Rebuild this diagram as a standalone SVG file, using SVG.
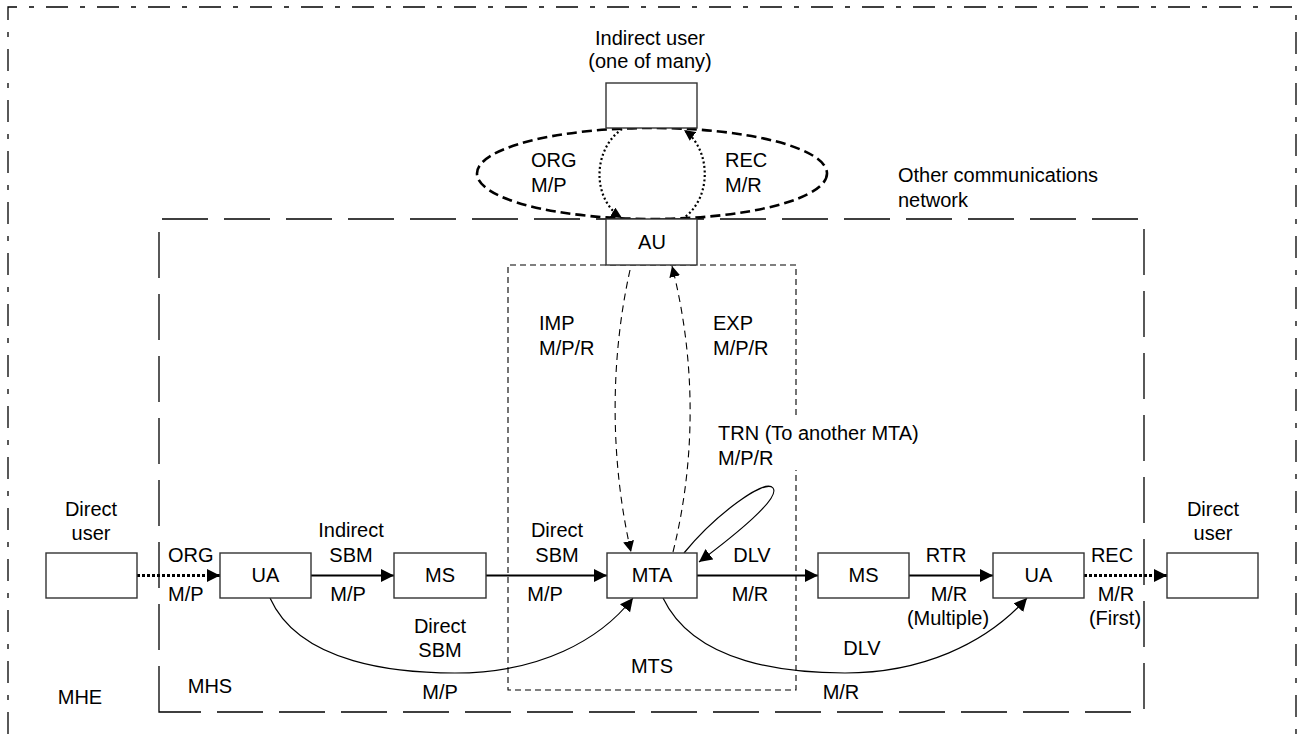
<svg xmlns="http://www.w3.org/2000/svg" width="1298" height="734" viewBox="0 0 1298 734">
<style>
text{font-family:"Liberation Sans",Arial,sans-serif;font-size:20px;fill:#000}
.c{text-anchor:middle}
.box{fill:#fff;stroke:#333;stroke-width:1.4}
.solid{fill:none;stroke:#000;stroke-width:2.2}
.thin{fill:none;stroke:#000;stroke-width:1.2}
.dot{fill:none;stroke:#000;stroke-width:3.2;stroke-dasharray:3 2}
.dotthin{fill:none;stroke:#000;stroke-width:2.2;stroke-dasharray:2 2.5}
.dash{fill:none;stroke:#000;stroke-width:1.1;stroke-dasharray:7 5}
.ell{fill:none;stroke:#000;stroke-width:2.6;stroke-dasharray:10 5}
.mhe{fill:none;stroke:#000;stroke-width:1.3;stroke-dasharray:22 12 5 12}
.mhs{fill:none;stroke:#000;stroke-width:1.3;stroke-dasharray:46 16}
.mts{fill:none;stroke:#000;stroke-width:1.1;stroke-dasharray:6 4}
</style>
<defs>
<marker id="arr" markerUnits="userSpaceOnUse" markerWidth="14" markerHeight="14" refX="13" refY="6.5" orient="auto">
<path d="M0,0 L13,6.5 L0,13 z" fill="#000"/>
</marker>
<marker id="arrs" markerUnits="userSpaceOnUse" markerWidth="12" markerHeight="12" refX="11" refY="5.5" orient="auto">
<path d="M0,0 L11,5.5 L0,11 z" fill="#000"/>
</marker>
</defs>
<rect width="1298" height="734" fill="#fff"/>

<g id="boundaries">
<path class="mhe" d="M8,734 V7 H1296 V734"/>
<path class="mhs" d="M159,712 V219 H1144 V712 Z"/>
<path class="mts" d="M796,415 V265 H508 V690 H796 V470"/>
<ellipse class="ell" cx="652" cy="173.5" rx="175" ry="45.5"/>
<text x="898" y="182">Other communications</text>
<text x="898" y="207">network</text>
<text class="c" x="210" y="693">MHS</text>
<text class="c" x="80" y="704">MHE</text>
<text class="c" x="652" y="673">MTS</text>
</g>

<g id="connectors">
<path class="dotthin" d="M622,129 C592,150 592,200 622,218" marker-end="url(#arrs)"/>
<path class="dotthin" d="M682,219 C712,200 712,150 684,130" marker-end="url(#arrs)"/>
<path class="dash" d="M630,270 C610,360 610,460 631,552" marker-end="url(#arrs)"/>
<path class="dash" d="M673,552 C696,460 696,360 672,266" marker-end="url(#arrs)"/>
<path class="thin" d="M684,553 C715,515 765,478 773,488 C781,498 735,535 699,562" marker-end="url(#arr)"/>
<path class="dot" d="M137,575.5 H220" marker-end="url(#arr)"/>
<path class="solid" d="M311,575.5 H394" marker-end="url(#arr)"/>
<path class="solid" d="M486,575.5 H607" marker-end="url(#arr)"/>
<path class="solid" d="M697,575.5 H818" marker-end="url(#arr)"/>
<path class="solid" d="M909,575.5 H993" marker-end="url(#arr)"/>
<path class="dot" d="M1084,575.5 H1167" marker-end="url(#arr)"/>
<path class="thin" d="M270,598 C300,665 400,673 455,673 C540,673 600,640 633,598" marker-end="url(#arr)"/>
<path class="thin" d="M663,598 C695,665 790,673 845,673 C920,673 985,645 1027,598" marker-end="url(#arr)"/>

<text x="531" y="167">ORG</text>
<text x="531" y="192">M/P</text>
<text x="725" y="167">REC</text>
<text x="725" y="192">M/R</text>
<text x="539" y="330">IMP</text>
<text x="539" y="355">M/P/R</text>
<text x="713" y="330">EXP</text>
<text x="713" y="355">M/P/R</text>
<text x="718" y="440">TRN (To another MTA)</text>
<text x="718" y="465">M/P/R</text>
<text x="168" y="562">ORG</text>
<text x="168" y="601">M/P</text>
<text class="c" x="351" y="537">Indirect</text>
<text class="c" x="351" y="562">SBM</text>
<text class="c" x="348" y="601">M/P</text>
<text class="c" x="557" y="537">Direct</text>
<text class="c" x="557" y="562">SBM</text>
<text class="c" x="545" y="601">M/P</text>
<text class="c" x="752" y="562">DLV</text>
<text class="c" x="750" y="601">M/R</text>
<text class="c" x="946" y="562">RTR</text>
<text class="c" x="949" y="601">M/R</text>
<text class="c" x="948" y="625">(Multiple)</text>
<text class="c" x="1112" y="562">REC</text>
<text class="c" x="1116" y="601">M/R</text>
<text class="c" x="1115" y="625">(First)</text>
<text class="c" x="440" y="633">Direct</text>
<text class="c" x="440" y="657">SBM</text>
<text class="c" x="440" y="699">M/P</text>
<text class="c" x="862" y="655">DLV</text>
<text class="c" x="841" y="699">M/R</text>
</g>

<g id="indirect-user">
<rect class="box" x="606" y="83" width="91" height="45"/>
<text class="c" x="650" y="45">Indirect user</text>
<text class="c" x="650" y="68">(one of many)</text>
</g>
<g id="au">
<rect class="box" x="606" y="219" width="91" height="46"/>
<text class="c" x="652" y="249">AU</text>
</g>
<g id="direct-user-left">
<rect class="box" x="46" y="553" width="91" height="45"/>
<text class="c" x="91" y="516">Direct</text>
<text class="c" x="91" y="540">user</text>
</g>
<g id="ua-1">
<rect class="box" x="220" y="553" width="91" height="45"/>
<text class="c" x="265.5" y="582">UA</text>
</g>
<g id="ms-1">
<rect class="box" x="394" y="553" width="92" height="45"/>
<text class="c" x="440" y="582">MS</text>
</g>
<g id="mta">
<rect class="box" x="607" y="553" width="90" height="45"/>
<text class="c" x="652" y="582">MTA</text>
</g>
<g id="ms-2">
<rect class="box" x="818" y="553" width="91" height="45"/>
<text class="c" x="863.5" y="582">MS</text>
</g>
<g id="ua-2">
<rect class="box" x="993" y="553" width="91" height="45"/>
<text class="c" x="1038.5" y="582">UA</text>
</g>
<g id="direct-user-right">
<rect class="box" x="1167" y="553" width="91" height="45"/>
<text class="c" x="1213" y="516">Direct</text>
<text class="c" x="1213" y="540">user</text>
</g>
</svg>
